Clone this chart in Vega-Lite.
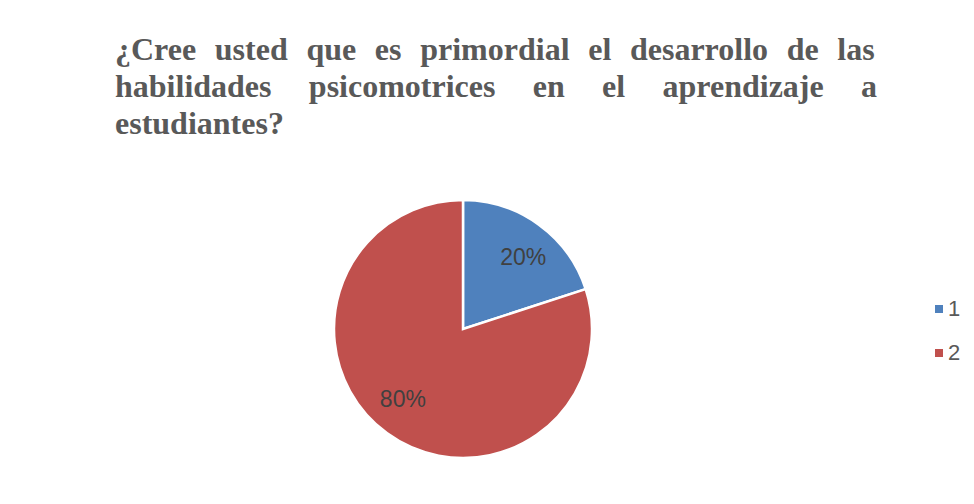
{
  "$schema": "https://vega.github.io/schema/vega-lite/v6.json",
  "width": 258,
  "height": 258,
  "autosize": "none",
  "padding": {"left": 334, "top": 200, "right": 382, "bottom": 46},
  "background": "white",
  "title": {
    "text": ["¿Cree \u2004usted \u2004que \u2004es \u2004primordial \u2004el \u2004desarrollo \u2004de \u2004las", "habilidades \u2002\u2005\u2006psicomotrices \u2002\u2005\u2006en \u2002\u2005\u2006el \u2002\u2005\u2006aprendizaje \u2002\u2005\u2006a", "estudiantes?"],
    "anchor": "start",
    "frame": "group",
    "dx": -219,
    "offset": 54,
    "font": "Liberation Serif",
    "fontSize": 32,
    "fontWeight": "bold",
    "color": "#595959",
    "lineHeight": 37
  },
  "data": {
    "values": [
      {"category": "1", "value": 20, "label": "20%"},
      {"category": "2", "value": 80, "label": "80%"}
    ]
  },
  "encoding": {
    "theta": {"field": "value", "type": "quantitative", "stack": true},
    "order": {"field": "category", "type": "nominal"}
  },
  "layer": [
    {
      "mark": {"type": "arc", "radius": 129, "stroke": "white", "strokeWidth": 2.5},
      "encoding": {
        "color": {
          "field": "category",
          "type": "nominal",
          "scale": {"domain": ["1", "2"], "range": ["#4F81BD", "#C0504D"]},
          "legend": {
            "title": null,
            "orient": "none",
            "legendX": 594,
            "legendY": 98,
            "padding": 0,
            "symbolType": "square",
            "symbolSize": 64,
            "symbolStrokeWidth": 0,
            "labelFont": "Liberation Sans",
            "labelFontSize": 22,
            "labelColor": "#595959",
            "labelOffset": -2,
            "rowPadding": 22
          }
        }
      }
    },
    {
      "mark": {"type": "text", "radius": 93, "thetaOffset": 0.075, "font": "Liberation Sans", "fontSize": 23, "color": "#404040", "baseline": "middle", "align": "center"},
      "encoding": {"text": {"field": "label"}}
    }
  ],
  "config": {"view": {"stroke": null}}
}
